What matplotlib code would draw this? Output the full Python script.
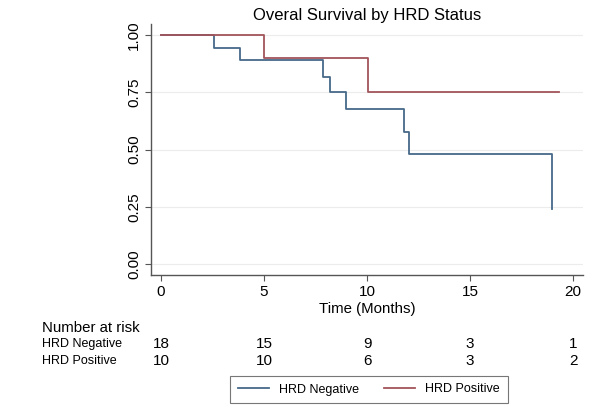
import matplotlib
matplotlib.use("Agg")
import matplotlib.pyplot as plt
from matplotlib.transforms import blended_transform_factory
from matplotlib.lines import Line2D

plt.rcParams['font.family'] = ['Liberation Sans', 'DejaVu Sans']

# Kaplan-Meier step data (time, survival)
neg_t = [0, 2.55, 3.85, 7.85, 8.2, 9.0, 11.8, 12.05, 19.0]
neg_s = [1.0, 0.944, 0.889, 0.817, 0.751, 0.675, 0.576, 0.48, 0.24]
neg_end = 19.0
pos_t = [0, 5.0, 10.05]
pos_s = [1.0, 0.90, 0.75]
pos_end = 19.3

risk_times = [0, 5, 10, 15, 20]
risk_neg = [18, 15, 9, 3, 1]
risk_pos = [10, 10, 6, 3, 2]

title = "Overal Survival by HRD Status"
xlabel = "Time (Months)"
yticks = [0.0, 0.25, 0.5, 0.75, 1.0]
ytick_labels = ["0.00", "0.25", "0.50", "0.75", "1.00"]

c_neg = "#46698a"
c_pos = "#a3545b"

fig = plt.figure(figsize=(6, 4.09), dpi=100)
ax = fig.add_axes([151/600, 1-275/409, (583-151)/600, (275-24)/409])

def step(ts, ss, end):
    xs = list(ts) + [end]
    ys = list(ss) + [ss[-1]]
    return xs, ys

x, y = step(neg_t, neg_s, neg_end)
ax.step(x, y, where='post', color=c_neg, lw=1.3)
x, y = step(pos_t, pos_s, pos_end)
ax.step(x, y, where='post', color=c_pos, lw=1.3)

ax.set_xlim(-0.485, 20.485)
ax.set_ylim(-0.048, 1.048)
ax.set_yticks(yticks)
ax.set_yticklabels(ytick_labels, rotation=90, va='center', fontsize=11)
ax.set_xticks(risk_times)
ax.set_xticklabels([str(t) for t in risk_times], fontsize=11)
ax.tick_params(axis='both', length=4, width=0.8, color='#555555', pad=3)
for s in ['top', 'right']:
    ax.spines[s].set_visible(False)
for s in ['left', 'bottom']:
    ax.spines[s].set_color('#555555')
    ax.spines[s].set_linewidth(1.0)
ax.grid(axis='y', color='#ececec', lw=0.8)
ax.set_axisbelow(True)
ax.set_xlabel(xlabel, fontsize=10.8, labelpad=2)
ax.set_title(title, fontsize=12, pad=3)

tr = blended_transform_factory(ax.transData, fig.transFigure)
fig.text(42/600, 1-328/409, "Number at risk", fontsize=10.8, va='center', ha='left')
fig.text(42/600, 1-344/409, "HRD Negative", fontsize=9, va='center', ha='left')
fig.text(42/600, 1-361/409, "HRD Positive", fontsize=9, va='center', ha='left')
for t, n1, n2 in zip(risk_times, risk_neg, risk_pos):
    fig.text(t, 1-344/409, str(n1), transform=tr, fontsize=11, va='center', ha='center')
    fig.text(t, 1-361/409, str(n2), transform=tr, fontsize=11, va='center', ha='center')

handles = [Line2D([], [], color=c_neg, lw=1.3), Line2D([], [], color=c_pos, lw=1.3)]
leg = fig.legend(handles, ["HRD Negative", "HRD Positive"], loc='center',
                 bbox_to_anchor=(369/600, 1-389.5/409), ncol=2, fontsize=9,
                 frameon=True, fancybox=False, edgecolor='#555555',
                 handlelength=2.5, columnspacing=2.0, borderpad=0.6)
leg.get_frame().set_linewidth(0.8)

fig.savefig("out.png", dpi=100)
